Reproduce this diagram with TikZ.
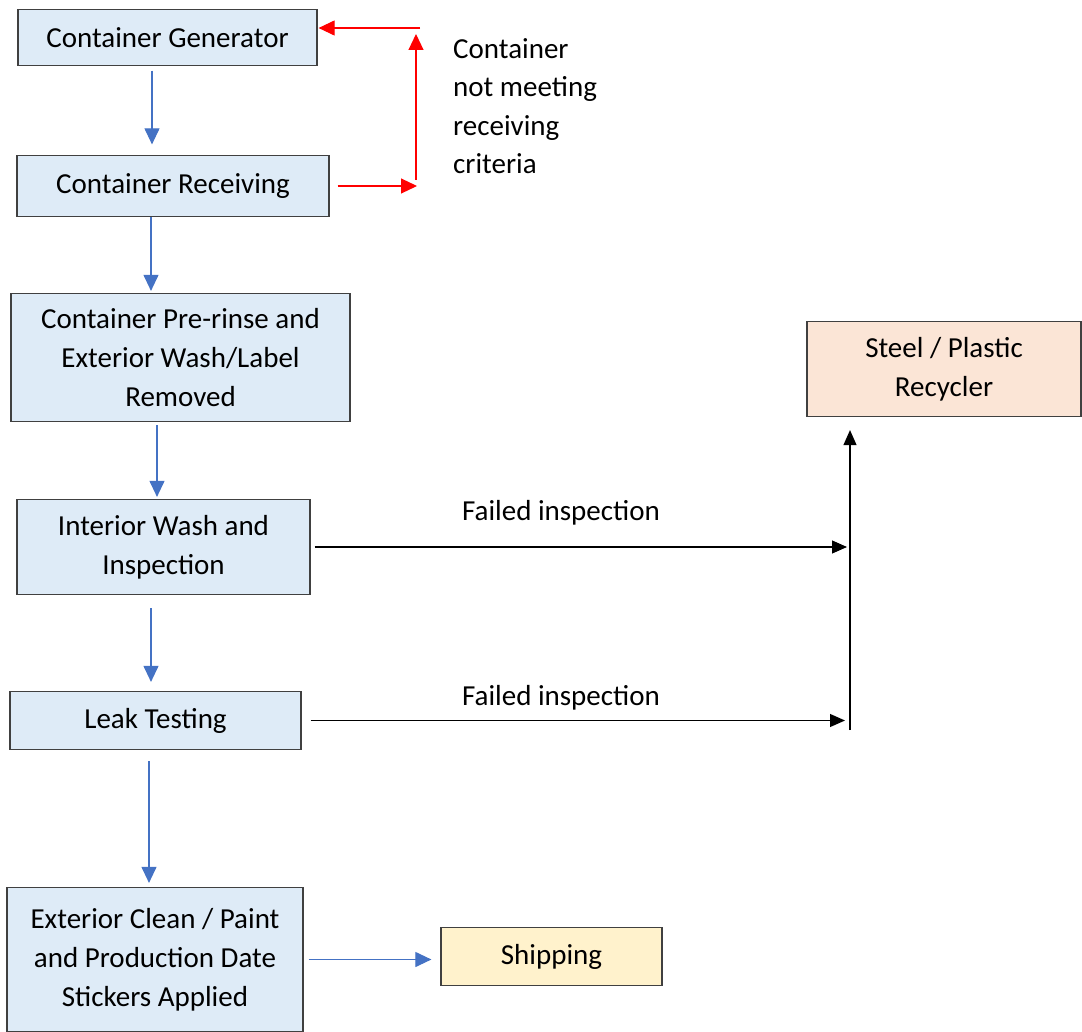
\documentclass[tikz,border=0pt]{standalone}
\usepackage{fontspec}
\setmainfont{Carlito}
\usetikzlibrary{arrows.meta}
\definecolor{boxblue}{HTML}{DEEBF7}
\definecolor{boxpeach}{HTML}{FBE5D6}
\definecolor{boxyellow}{HTML}{FFF2CC}
\definecolor{edgegray}{HTML}{404040}
\definecolor{arrowblue}{HTML}{4472C4}
\definecolor{arrowred}{HTML}{FF0000}
\begin{document}
\begin{tikzpicture}[x=1pt,y=-1pt,
  every node/.style={font=\fontsize{29}{39}\selectfont},
  procbox/.style={draw=edgegray, line width=1.2pt, fill=boxblue, inner sep=0pt, align=center},
  barrow/.style={draw=arrowblue, line width=1.1pt, -{Triangle[length=16pt,width=15pt]}},
  rarrow/.style={draw=arrowred, line width=1.1pt, -{Triangle[length=16pt,width=15pt]}},
  karrow/.style={draw=black, line width=1.1pt, -{Triangle[length=15pt,width=13pt]}},
  lbl/.style={inner sep=0pt}
]
\useasboundingbox (0,0) rectangle (1082,1032);

% boxes
\node[procbox, minimum width=299pt, minimum height=56pt] (gen) at (167.5,37.5) {Container Generator};
\node[procbox, minimum width=312pt, minimum height=61pt] (rec) at (173,186) {Container Receiving};
\node[procbox, minimum width=339pt, minimum height=128pt] (pre) at (180.5,357.5) {Container Pre-rinse and\\Exterior Wash/Label\\Removed};
\node[procbox, minimum width=293pt, minimum height=95pt] (int) at (163.5,547) {Interior Wash and\\Inspection};
\node[procbox, minimum width=291pt, minimum height=58pt] (leak) at (155.5,720.5) {Leak Testing};
\node[procbox, minimum width=296pt, minimum height=144pt] (ext) at (155,959.5) {Exterior Clean / Paint\\and Production Date\\Stickers Applied};
\node[procbox, fill=boxyellow, minimum width=221pt, minimum height=58pt] (ship) at (551.5,956.5) {Shipping};
\node[procbox, fill=boxpeach, minimum width=274pt, minimum height=95pt] (recy) at (944,369) {Steel / Plastic\\Recycler};

% labels
\node[lbl, anchor=north west, align=left, font=\fontsize{29}{38.5}\selectfont] (crit) at (453,38) {Container\\not meeting\\receiving\\criteria};
\node[lbl, anchor=base] (fail1) at (561,520) {Failed inspection};
\node[lbl, anchor=base] (fail2) at (561,705) {Failed inspection};

% blue flow
\draw[barrow, shorten <=4.5pt, shorten >=10.5pt] (152,0 |- gen.south) -- (152,0 |- rec.north);
\draw[barrow, shorten >=2pt] (151,0 |- rec.south) -- (151,0 |- pre.north);
\draw[barrow, shorten <=3pt, shorten >=2pt] (157,0 |- pre.south) -- (157,0 |- int.north);
\draw[barrow, shorten <=13pt, shorten >=9pt] (151,0 |- int.south) -- (151,0 |- leak.north);
\draw[barrow, shorten <=11pt, shorten >=4pt] (149,0 |- leak.south) -- (149,0 |- ext.north);
\draw[barrow, shorten <=5pt, shorten >=9pt] (ext.east) -- (ext.east -| ship.west);

% red loop
\coordinate (r1) at (417,185);
\coordinate (r2) at (416,180);
\coordinate (r3) at (416,34);
\coordinate (r4) at (420,28);
\draw[rarrow, shorten <=8pt] (rec.east) -- (r1 |- rec.east);
\draw[rarrow] (r2) -- (r3);
\draw[rarrow, shorten >=1pt] (r4) -- (r4 -| gen.east);

% black rejects
\coordinate (b1) at (847,545);
\coordinate (b2) at (845,719);
\coordinate (b3) at (850,730);
\draw[karrow, shorten <=4pt] (int.east) -- (b1 |- int.east);
\draw[karrow, shorten <=9pt] (leak.east) -- (b2 |- leak.east);
\draw[karrow, shorten >=13pt] (b3) -- (b3 |- recy.south);
\end{tikzpicture}
\end{document}
